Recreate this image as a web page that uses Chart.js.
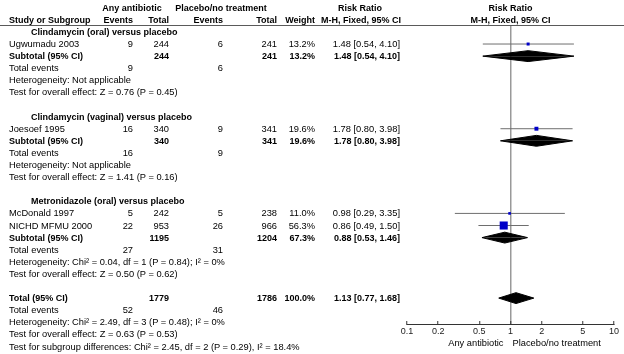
<!DOCTYPE html>
<html>
<head>
<meta charset="utf-8">
<script src="https://cdn.jsdelivr.net/npm/chart.js@4.4.0/dist/chart.umd.min.js"></script>
<style>
  html, body { margin: 0; padding: 0; background: #fff; }
  #wrap { position: relative; width: 624px; height: 354px; overflow: hidden;
          font-family: 'Liberation Sans', Arial, sans-serif; font-size: 9.3px; color: #000; }
  #forest { position: absolute; left: 0; top: 0; }
  .t { position: absolute; white-space: nowrap; line-height: 12px; }
  .b { font-weight: bold; font-size: 9px; }
  .rule { position: absolute; left: 0; width: 624px; height: 1px; background: #5a5a5a; }
</style>
</head>
<body>
<div id="wrap"><canvas id="forest" width="624" height="354"></canvas></div>
<script>
// subgroups
const groups = ['Clindamycin (oral) versus placebo', 'Clindamycin (vaginal) versus placebo', 'Metronidazole (oral) versus placebo'];

// studies
const studyNames = ['Ugwumadu 2003', 'Joesoef 1995', 'McDonald 1997', 'NICHD MFMU 2000'];
const studyGroup = [0, 1, 2, 2];
const abxEvents = [9, 16, 5, 22];
const abxTotal = [244, 340, 242, 953];
const plcEvents = [6, 9, 5, 26];
const plcTotal = [241, 341, 238, 966];
const weights = [13.2, 19.6, 11.0, 56.3];
const rr = [1.48, 1.78, 0.98, 0.86];
const rrLow = [0.54, 0.80, 0.29, 0.49];
const rrHigh = [4.10, 3.98, 3.35, 1.50];

// subtotals
const subAbxEvents = [9, 16, 27];
const subAbxTotal = [244, 340, 1195];
const subPlcEvents = [6, 9, 31];
const subPlcTotal = [241, 341, 1204];
const subWeight = [13.2, 19.6, 67.3];
const subRR = [1.48, 1.78, 0.88];
const subLow = [0.54, 0.80, 0.53];
const subHigh = [4.10, 3.98, 1.46];
const subHet = ['Not applicable', 'Not applicable', 'Chi\u00b2 = 0.04, df = 1 (P = 0.84); I\u00b2 = 0%'];
const subEffect = ['Z = 0.76 (P = 0.45)', 'Z = 1.41 (P = 0.16)', 'Z = 0.50 (P = 0.62)'];

// overall
const totalEvents = [52, 46];
const totalN = [1779, 1786];
const totalWeight = 100.0;
const totalRR = [1.13, 0.77, 1.68];
const totalHet = 'Chi\u00b2 = 2.49, df = 3 (P = 0.48); I\u00b2 = 0%';
const totalEffect = 'Z = 0.63 (P = 0.53)';
const subgroupTest = 'Chi\u00b2 = 2.45, df = 2 (P = 0.29), I\u00b2 = 18.4%';

// axis
const tickValues = [0.1, 0.2, 0.5, 1, 2, 5, 10];
const axisLabels = ['Any antibiotic', 'Placebo/no treatment'];

// work out which table row each line sits on
let r = -1;
const titleRow = [], studyRow = [], subRow = [];
groups.forEach((g, gi) => {
    titleRow[gi] = r++;
    studyNames.forEach((n, i) => { if (studyGroup[i] === gi) studyRow[i] = r++; });
    subRow[gi] = r;
    r += 5; // subtotal, events, heterogeneity, overall effect, blank
});
const totalRow = r;

const DIAMOND_H = 0.45;
const FONT = "'Liberation Sans', Arial, sans-serif";

const datasets = [];
// study squares, size follows the weight
datasets.push({
    data: rr.map((v, i) => ({ x: v, y: studyRow[i] })),
    showLine: false,
    pointStyle: 'rect',
    pointRadius: weights.map(w => 0.52 * Math.pow(w, 0.68) / Math.SQRT2),
    pointBackgroundColor: '#0000c8',
    pointBorderWidth: 0,
    order: 0
});
// confidence interval whiskers
rr.forEach((v, i) => {
    datasets.push({
        data: [{ x: rrLow[i], y: studyRow[i] }, { x: rrHigh[i], y: studyRow[i] }],
        borderColor: '#6e6e6e', borderWidth: 1, pointRadius: 0, fill: false, order: 1
    });
});
// diamonds: an upper and a lower half, each filled back to the row
function diamond(est, lo, hi, row) {
    [-1, 1].forEach(s => {
        datasets.push({
            data: [{ x: lo, y: row }, { x: est, y: row + s * DIAMOND_H }, { x: hi, y: row }],
            borderColor: '#000', borderWidth: 1, backgroundColor: '#000',
            pointRadius: 0, fill: { target: { value: row } }, order: 2
        });
    });
}
subRR.forEach((v, i) => diamond(v, subLow[i], subHigh[i], subRow[i]));
diamond(totalRR[0], totalRR[1], totalRR[2], totalRow);

const chart = new Chart(document.getElementById('forest'), {
    type: 'line',
    data: { datasets: datasets },
    options: {
        responsive: false,
        animation: false,
        events: [],
        layout: { padding: { left: 407, right: 8, top: 26, bottom: 0 } },
        plugins: { legend: { display: false }, tooltip: { enabled: false } },
        scales: {
            x: {
                type: 'logarithmic', min: 0.1, max: 10, position: 'bottom',
                afterBuildTicks: s => { s.ticks = tickValues.map(v => ({ value: v })); },
                afterFit: s => { s.height = 30; },
                ticks: {
                    autoSkip: false, maxRotation: 0, padding: 5, color: '#222',
                    font: { family: FONT, size: 9 },
                    callback: v => String(v)
                },
                grid: {
                    color: c => (c.tick && c.tick.value === 1) ? '#999' : 'rgba(0,0,0,0)',
                    lineWidth: 1.5,
                    tickColor: '#333', tickLength: -3, tickWidth: 1
                },
                border: { color: '#333', width: 1 }
            },
            y: { type: 'linear', reverse: true, min: -1.49, max: 23.14, display: false }
        }
    }
});

// table text, placed on the same rows as the plot
const wrap = document.getElementById('wrap');
const yPix = row => chart.scales.y.getPixelForValue(row);
const xOne = chart.scales.x.getPixelForValue(1);

function put(text, x, top, align, bold) {
    const d = document.createElement('div');
    d.className = 't' + (bold ? ' b' : '');
    d.textContent = text;
    d.style.left = x + 'px';
    d.style.top = top + 'px';
    if (align === 'right') d.style.transform = 'translateX(-100%)';
    if (align === 'center') d.style.transform = 'translateX(-50%)';
    wrap.appendChild(d);
}
function cell(text, x, row, align, bold) { put(text, x, yPix(row) - 6, align, bold); }

const col = { name: 9, title: 31, abxE: 133, abxN: 169, plcE: 223, plcN: 277, w: 315, ci: 400 };
const fmtCI = (e, l, h) => e.toFixed(2) + ' [' + l.toFixed(2) + ', ' + h.toFixed(2) + ']';
const fmtW = w => w.toFixed(1) + '%';

// header
cell('Any antibiotic', 132, -3, 'center', true);
cell('Placebo/no treatment', 221, -3, 'center', true);
cell('Risk Ratio', 360, -3, 'center', true);
cell('Risk Ratio', xOne, -3, 'center', true);
cell('Study or Subgroup', col.name, -2, 'left', true);
cell('Events', col.abxE, -2, 'right', true);
cell('Total', col.abxN, -2, 'right', true);
cell('Events', col.plcE, -2, 'right', true);
cell('Total', col.plcN, -2, 'right', true);
cell('Weight', col.w, -2, 'right', true);
cell('M-H, Fixed, 95% CI', 361, -2, 'center', true);
cell('M-H, Fixed, 95% CI', xOne, -2, 'center', true);
const rule = document.createElement('div');
rule.className = 'rule';
rule.style.top = Math.round(chart.chartArea.top - 1) + 'px';
wrap.appendChild(rule);

groups.forEach((g, gi) => {
    cell(g, col.title, titleRow[gi], 'left', true);
    studyNames.forEach((n, i) => {
        if (studyGroup[i] !== gi) return;
        const row = studyRow[i];
        cell(n, col.name, row, 'left');
        cell(String(abxEvents[i]), col.abxE, row, 'right');
        cell(String(abxTotal[i]), col.abxN, row, 'right');
        cell(String(plcEvents[i]), col.plcE, row, 'right');
        cell(String(plcTotal[i]), col.plcN, row, 'right');
        cell(fmtW(weights[i]), col.w, row, 'right');
        cell(fmtCI(rr[i], rrLow[i], rrHigh[i]), col.ci, row, 'right');
    });
    const s = subRow[gi];
    cell('Subtotal (95% CI)', col.name, s, 'left', true);
    cell(String(subAbxTotal[gi]), col.abxN, s, 'right', true);
    cell(String(subPlcTotal[gi]), col.plcN, s, 'right', true);
    cell(fmtW(subWeight[gi]), col.w, s, 'right', true);
    cell(fmtCI(subRR[gi], subLow[gi], subHigh[gi]), col.ci, s, 'right', true);
    cell('Total events', col.name, s + 1, 'left');
    cell(String(subAbxEvents[gi]), col.abxE, s + 1, 'right');
    cell(String(subPlcEvents[gi]), col.plcE, s + 1, 'right');
    cell('Heterogeneity: ' + subHet[gi], col.name, s + 2, 'left');
    cell('Test for overall effect: ' + subEffect[gi], col.name, s + 3, 'left');
});

cell('Total (95% CI)', col.name, totalRow, 'left', true);
cell(String(totalN[0]), col.abxN, totalRow, 'right', true);
cell(String(totalN[1]), col.plcN, totalRow, 'right', true);
cell(fmtW(totalWeight), col.w, totalRow, 'right', true);
cell(fmtCI(totalRR[0], totalRR[1], totalRR[2]), col.ci, totalRow, 'right', true);
cell('Total events', col.name, totalRow + 1, 'left');
cell(String(totalEvents[0]), col.abxE, totalRow + 1, 'right');
cell(String(totalEvents[1]), col.plcE, totalRow + 1, 'right');
cell('Heterogeneity: ' + totalHet, col.name, totalRow + 2, 'left');
cell('Test for overall effect: ' + totalEffect, col.name, totalRow + 3, 'left');
cell('Test for subgroup differences: ' + subgroupTest, col.name, totalRow + 4, 'left');

// favours labels under the axis
put(axisLabels[0], xOne - 7, 337, 'right');
put(axisLabels[1], xOne + 2, 337, 'left');
</script>
</body>
</html>
